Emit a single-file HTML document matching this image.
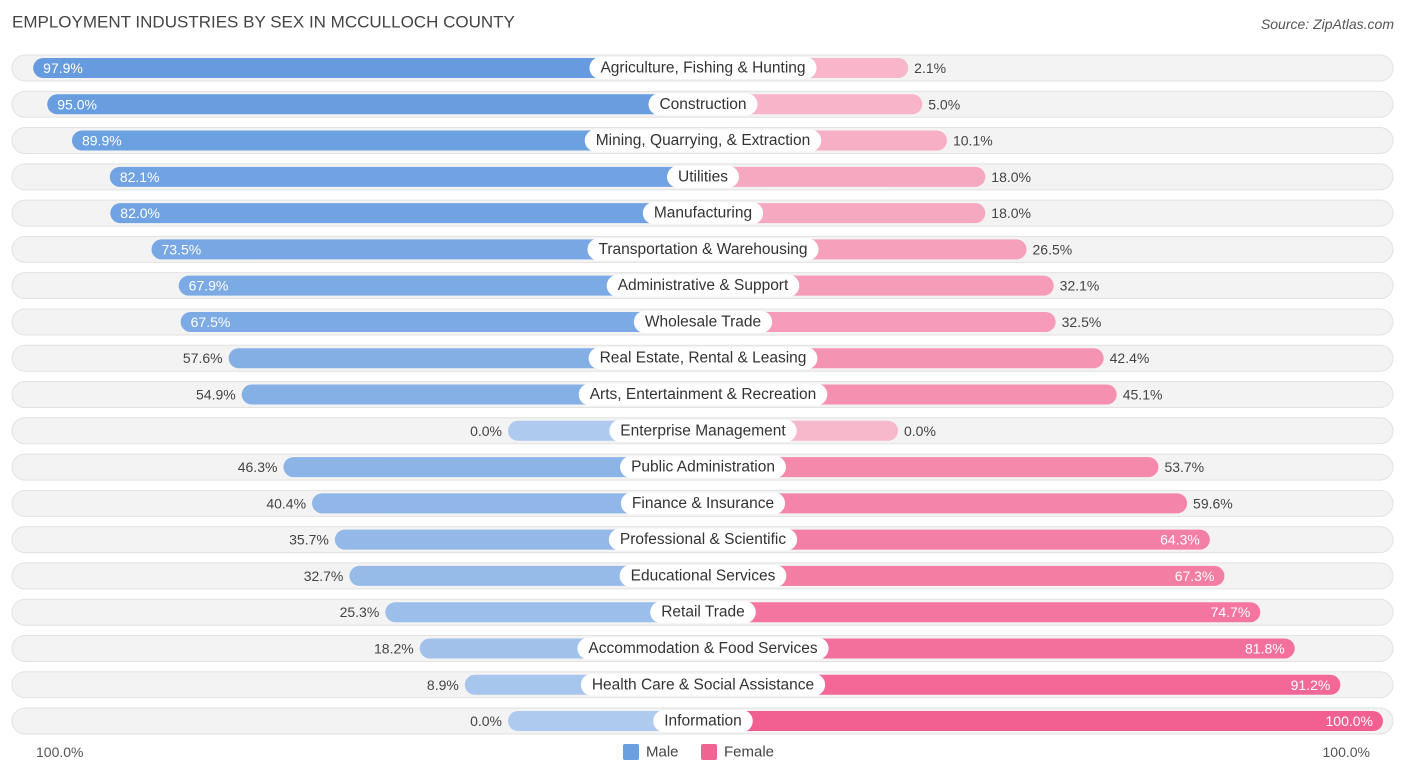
<!DOCTYPE html>
<html><head><meta charset="utf-8"><style>
body{margin:0;background:#fff;font-family:"Liberation Sans",Arial,sans-serif;}
#c{position:relative;width:1406px;height:776px;overflow:hidden;}
</style></head><body>
<div id="c">
<svg id="s" width="1406" height="776"></svg>
</div>
<script>
const categories=["Agriculture, Fishing & Hunting","Construction","Mining, Quarrying, & Extraction","Utilities","Manufacturing","Transportation & Warehousing","Administrative & Support","Wholesale Trade","Real Estate, Rental & Leasing","Arts, Entertainment & Recreation","Enterprise Management","Public Administration","Finance & Insurance","Professional & Scientific","Educational Services","Retail Trade","Accommodation & Food Services","Health Care & Social Assistance","Information"];
const maleValues=[97.9,95.0,89.9,82.1,82.0,73.5,67.9,67.5,57.6,54.9,0.0,46.3,40.4,35.7,32.7,25.3,18.2,8.9,0.0];
const femaleValues=[2.1,5.0,10.1,18.0,18.0,26.5,32.1,32.5,42.4,45.1,0.0,53.7,59.6,64.3,67.3,74.7,81.8,91.2,100.0];
const NS="http://www.w3.org/2000/svg";
const svg=document.getElementById('s');
const cx=703,minLen=195,scale=485,y0=68,step=36.28;
function len(v){return minLen+scale*v/100;}
function rowY(i){return y0+i*step;}
function mk(t,a,p){const e=document.createElementNS(NS,t);for(const k in a)e.setAttribute(k,a[k]);(p||svg).appendChild(e);return e;}
function mix(c1,c2,t){return 'rgb('+c1.map((c,i)=>Math.round(c+(c2[i]-c)*t)).join(',')+')';}
function txt(x,y,s,o){const e=mk('text',Object.assign({x:x,y:y,'font-size':14,'dominant-baseline':'central',fill:'#444'},o||{}));e.textContent=s;return e;}
const tt=txt(12,22,"EMPLOYMENT INDUSTRIES BY SEX IN MCCULLOCH COUNTY",{'font-size':17,fill:'#444'});

const src=txt(1394,24,"Source: ZipAtlas.com",{'font-size':14,fill:'#555','text-anchor':'end','font-style':'italic'});

categories.forEach((c,i)=>{
 const y=rowY(i);
 const g=mk('g',{});
 
 const bg=mk('rect',{x:12,y:y-13,width:1381,height:26,rx:13,fill:'#f3f3f3',stroke:'#e2e2e2','stroke-width':1},g);
 
 const mv=maleValues[i],fv=femaleValues[i];
 const ml=len(mv),fl=len(fv);
 const mb=mk('rect',{x:cx-ml,y:y-10,width:ml,height:20,rx:10,fill:mix([174,202,238],[100,155,223],mv/100)},g);
 
 const fb=mk('rect',{x:cx,y:y-10,width:fl,height:20,rx:10,fill:mix([248,184,204],[242,96,145],fv/100)},g);
 
 let ml1;
 if(mv>=60) ml1=txt(cx-ml+10,y,mv.toFixed(1)+'%',{fill:'#fff'});
 else ml1=txt(cx-ml-6,y,mv.toFixed(1)+'%',{'text-anchor':'end'});
 
 let fl1;
 if(fv>=60) fl1=txt(cx+fl-10,y,fv.toFixed(1)+'%',{fill:'#fff','text-anchor':'end'});
 else fl1=txt(cx+fl+6,y,fv.toFixed(1)+'%');
 
 const lbl=txt(cx,y,c,{'text-anchor':'middle','font-size':15.5,fill:'#333'});
 
 g.appendChild(lbl);
 const w=lbl.getComputedTextLength()+22;
 const pill=mk('rect',{x:cx-w/2,y:y-11,width:w,height:22,rx:11,fill:'#fff'},g);
 
 g.insertBefore(pill,lbl);
});
const la=txt(36,752,"100.0%",{'font-size':14,fill:'#555'});

const ra=txt(1370,752,"100.0%",{'font-size':14,fill:'#555','text-anchor':'end'});

const lm=mk('rect',{x:623,y:744,width:16,height:16,rx:2,fill:'#6a9fe0'});

const lmt=txt(646,752,"Male",{'font-size':15,fill:'#444'});

const lf=mk('rect',{x:701,y:744,width:16,height:16,rx:2,fill:'#f06493'});

const lft=txt(724,752,"Female",{'font-size':15,fill:'#444'});

</script>
</body></html>
